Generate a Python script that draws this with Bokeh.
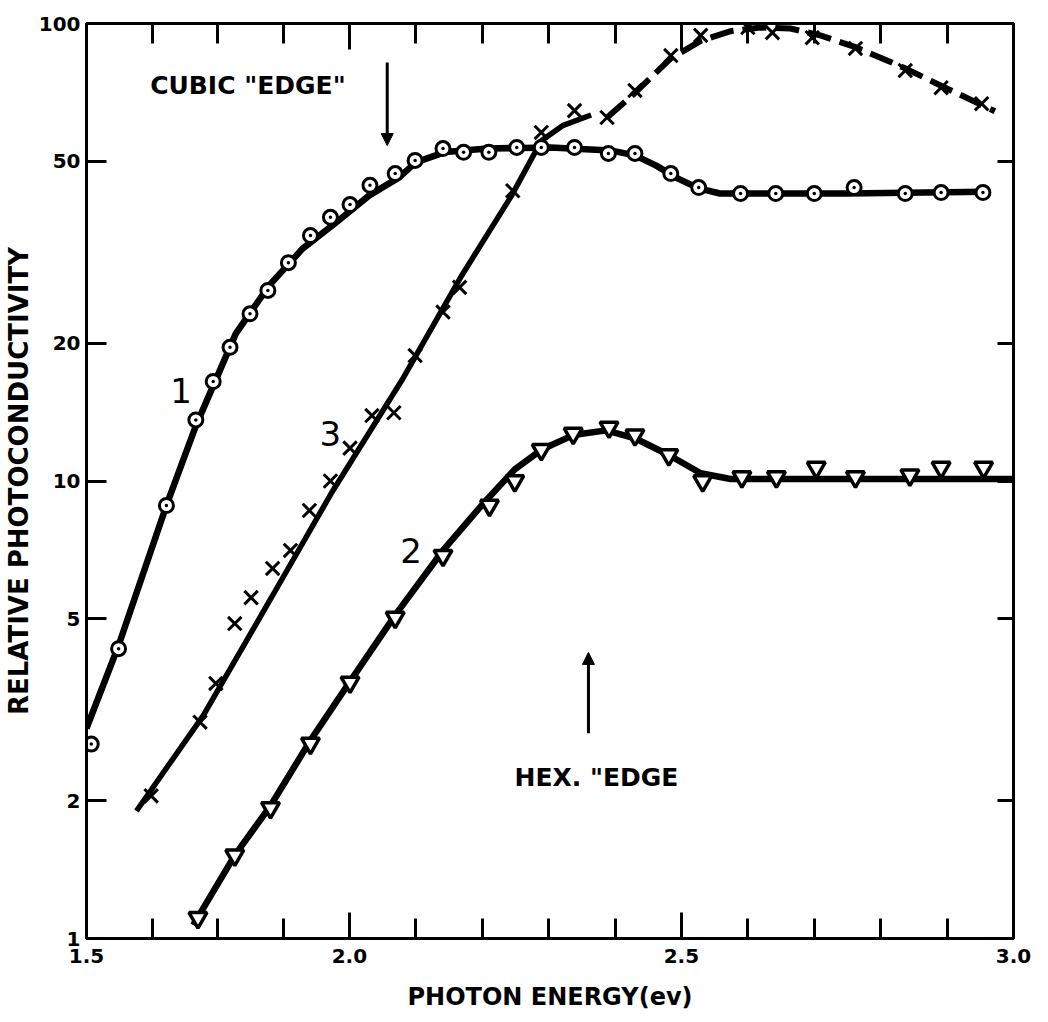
from bokeh.plotting import figure
from bokeh.models import (FixedTicker, LinearAxis, LogAxis, PrintfTickFormatter,
                          CustomJSTickFormatter, CustomJSTransform, Arrow,
                          NormalHead, Range1d, ColumnDataSource)
from bokeh.transform import transform
from bokeh.core.properties import value
from bokeh.embed import file_html
from bokeh.resources import INLINE

# ---------------- data ----------------
# Curve 1 (open circles)
energy_1 = [1.509, 1.561, 1.652, 1.708, 1.741, 1.773, 1.811, 1.845, 1.884, 1.926,
            1.964, 2.001, 2.031, 2.069, 2.099, 2.141, 2.172, 2.210, 2.252, 2.289,
            2.339, 2.390, 2.430, 2.484, 2.526, 2.589, 2.642, 2.700, 2.760, 2.837,
            2.891, 2.954]
photo_1 = [2.66, 4.30, 8.84, 13.6, 16.5, 19.6, 23.2, 26.1, 30.0, 34.4,
           37.7, 40.2, 44.3, 47.0, 50.2, 53.3, 52.3, 52.3, 53.6, 53.6,
           53.6, 52.0, 52.0, 47.0, 43.8, 42.5, 42.5, 42.5, 43.8, 42.5,
           42.7, 42.7]
# drawn curve 1
curve_1_x = [1.500, 1.561, 1.652, 1.708, 1.784, 1.848, 1.911, 1.973, 2.030, 2.075,
             2.100, 2.145, 2.208, 2.303, 2.393, 2.430, 2.462, 2.495, 2.526, 2.558,
             2.621, 2.748, 2.958]
curve_1_y = [2.88, 4.37, 8.84, 13.2, 21.0, 26.8, 32.2, 36.6, 42.1, 46.1,
             49.7, 52.4, 53.3, 53.6, 52.8, 51.5, 48.9, 45.8, 43.6, 42.5,
             42.5, 42.5, 42.9]

# Curve 2 (inverted triangles)
energy_2 = [1.712, 1.782, 1.850, 1.926, 2.001, 2.069, 2.141, 2.211, 2.249, 2.289,
            2.337, 2.391, 2.430, 2.481, 2.532, 2.591, 2.643, 2.703, 2.762, 2.844,
            2.891, 2.955]
photo_2 = [1.11, 1.52, 1.93, 2.67, 3.63, 5.03, 6.87, 8.84, 10.0, 11.7,
           12.7, 13.1, 12.6, 11.4, 10.0, 10.2, 10.2, 10.7, 10.2, 10.3,
           10.7, 10.7]
curve_2_x = [1.703, 1.782, 1.850, 1.926, 2.004, 2.069, 2.141, 2.199, 2.249, 2.289,
             2.337, 2.387, 2.430, 2.481, 2.529, 2.574, 2.679, 2.829, 3.000]
curve_2_y = [1.07, 1.52, 1.95, 2.71, 3.70, 5.09, 7.05, 8.84, 10.6, 11.7,
             12.6, 12.9, 12.4, 11.4, 10.4, 10.1, 10.1, 10.1, 10.1]

# Curve 3 (crosses)
energy_3 = [1.623, 1.716, 1.746, 1.782, 1.813, 1.854, 1.888, 1.924, 1.964, 2.001,
            2.034, 2.067, 2.099, 2.141, 2.166, 2.246, 2.289, 2.339, 2.388, 2.430,
            2.484, 2.529, 2.600, 2.637, 2.697, 2.762, 2.837, 2.891, 2.952]
photo_3 = [2.05, 2.97, 3.61, 4.88, 5.56, 6.44, 7.05, 8.62, 10.0, 11.8,
           13.9, 14.1, 18.8, 23.4, 26.5, 43.1, 57.8, 64.5, 62.3, 71.4,
           85.1, 94.2, 98.0, 95.5, 93.1, 88.2, 78.9, 72.4, 66.8]
curve_3_solid_x = [1.595, 1.722, 1.854, 1.968, 2.079, 2.169, 2.244, 2.289, 2.322, 2.364]
curve_3_solid_y = [1.90, 3.07, 5.62, 9.5, 16.6, 28.1, 42.0, 55.4, 59.9, 63.1]
curve_3_dash_x = [2.388, 2.430, 2.484, 2.529, 2.574, 2.619, 2.664, 2.709, 2.762, 2.837,
                  2.891, 2.972]
curve_3_dash_y = [62.3, 70.5, 83.9, 91.6, 96.2, 98.0, 97.5, 94.2, 88.8, 79.8,
                  73.1, 64.3]

# axes (the original x axis is drawn with a shorter 1.5-2.0 section,
# divided in four, while 2.0-3.0 is divided in tenths)
x_ticks = [1.5, 2.0, 2.5, 3.0]
x_minor_ticks = [1.625, 1.75, 1.875, 2.1, 2.2, 2.3, 2.4, 2.6, 2.7, 2.8, 2.9]
x_break = 2.0
left_section_ratio = 264.0 / 333.5   # length of 0.5 eV below 2.0 vs above
y_ticks = [1, 2, 5, 10, 20, 50, 100]
y_inner_ticks = [2, 5, 10, 20, 50]

# annotations
cubic_edge_x = 2.057
cubic_edge_from, cubic_edge_to = 82.2, 54.1
hex_edge_x = 2.360
hex_edge_from, hex_edge_to = 2.81, 4.22
note_text = ['CUBIC "EDGE"', 'HEX. "EDGE']
note_x = [1.807, 2.372]
note_y = [73.2, 2.25]
curve_names = ["1", "3", "2"]
curve_name_x = [1.680, 1.964, 2.093]
curve_name_y = [15.8, 12.7, 7.05]


def to_axis(x):
    return x if x >= x_break else x_break - (x_break - x) * left_section_ratio


warp = CustomJSTransform(
    args=dict(b=x_break, k=left_section_ratio),
    func="return x < b ? b - (b - x) * k : x;",
    v_func="""
        const out = new Float64Array(xs.length);
        for (let i = 0; i < xs.length; i++) {
            const v = xs[i];
            out[i] = v < b ? b - (b - v) * k : v;
        }
        return out;
    """)
tick_fmt = CustomJSTickFormatter(
    args=dict(b=x_break, k=left_section_ratio),
    code="const v = tick < b ? b - (b - tick) / k : tick; return v.toFixed(1);")
blank = CustomJSTickFormatter(code="return '';")

axis_ticks = [to_axis(t) for t in x_ticks]
axis_minor = [to_axis(t) for t in x_minor_ticks]

# ---------------- figure ----------------
FONT = "DejaVu Sans"
p = figure(width=1040, height=1020,
           x_range=Range1d(to_axis(x_ticks[0]), x_ticks[-1]),
           y_range=Range1d(y_ticks[0], y_ticks[-1]),
           y_axis_type="log", output_backend="svg", toolbar_location=None,
           min_border_left=82, min_border_right=27, min_border_top=23,
           min_border_bottom=82)
p.xgrid.visible = False
p.ygrid.visible = False
p.outline_line_color = "black"
p.outline_line_width = 3
p.background_fill_color = "white"
p.border_fill_color = "white"

# bottom axis
xa = p.xaxis[0]
xa.ticker = FixedTicker(ticks=axis_ticks, minor_ticks=axis_minor)
xa.formatter = tick_fmt
xa.axis_line_width = 3
xa.major_tick_in = 26
xa.major_tick_out = 0
xa.minor_tick_in = 20
xa.minor_tick_out = 0
xa.major_tick_line_width = 3
xa.minor_tick_line_width = 3
xa.major_label_standoff = 10
xa.major_label_text_font = FONT
xa.major_label_text_font_style = "bold"
xa.major_label_text_font_size = "20px"
xa.major_label_text_color = "black"
xa.axis_label = "PHOTON ENERGY(ev)"
xa.axis_label_text_font = FONT
xa.axis_label_text_font_style = "bold"
xa.axis_label_text_font_size = "24px"
xa.axis_label_standoff = 17
xa.axis_label_text_color = "black"

# left axis
ya = p.yaxis[0]
ya.ticker = FixedTicker(ticks=y_ticks)
ya.formatter = PrintfTickFormatter(format="%d")
ya.axis_line_width = 3
ya.major_tick_in = 20
ya.major_tick_out = 0
ya.minor_tick_in = 0
ya.minor_tick_out = 0
ya.major_tick_line_width = 3
ya.major_label_standoff = 6
ya.major_label_text_font = FONT
ya.major_label_text_font_style = "bold"
ya.major_label_text_font_size = "20px"
ya.major_label_text_color = "black"
ya.axis_label = "RELATIVE PHOTOCONDUCTIVITY"
ya.axis_label_text_font = FONT
ya.axis_label_text_font_style = "bold"
ya.axis_label_text_font_size = "26px"
ya.axis_label_standoff = 2
ya.axis_label_text_color = "black"

# top axis (ticks only)
top = LinearAxis(ticker=FixedTicker(ticks=axis_ticks, minor_ticks=axis_minor),
                 formatter=blank, major_label_text_font_size="8px",
                 major_label_standoff=0,
                 axis_line_width=3, major_tick_in=26, major_tick_out=0,
                 minor_tick_in=20, minor_tick_out=0,
                 major_tick_line_width=3, minor_tick_line_width=3)
p.add_layout(top, "above")

# right axis (ticks only)
right = LogAxis(ticker=FixedTicker(ticks=y_inner_ticks),
                formatter=blank, major_label_text_font_size="8px",
                major_label_standoff=0,
                axis_line_width=3, major_tick_in=16, major_tick_out=0,
                minor_tick_in=0, minor_tick_out=0, major_tick_line_width=3)
p.add_layout(right, "right")

X = transform("x", warp)

# curves
for cx, cy, lw, dash in [(curve_1_x, curve_1_y, 6.5, "solid"),
                         (curve_2_x, curve_2_y, 6.5, "solid"),
                         (curve_3_solid_x, curve_3_solid_y, 5.5, "solid"),
                         (curve_3_dash_x, curve_3_dash_y, 6, "24 9")]:
    src = ColumnDataSource(dict(x=cx, y=cy))
    p.line(x=X, y="y", source=src, line_color="black", line_width=lw,
           line_dash=dash)

# markers
p.scatter(x=X, y="y", source=ColumnDataSource(dict(x=energy_1, y=photo_1)),
          marker="circle_dot", size=14, line_color="black", line_width=3,
          fill_color="white")
p.scatter(x=X, y="y", source=ColumnDataSource(dict(x=energy_2, y=photo_2)),
          marker="inverted_triangle", size=18, line_color="black",
          line_width=3.5, fill_color="white")
p.scatter(x=X, y="y", source=ColumnDataSource(dict(x=energy_3, y=photo_3)),
          marker="x", size=19, line_color="black", line_width=3)

# annotations
p.add_layout(Arrow(end=NormalHead(size=12, fill_color="black", line_color="black"),
                   x_start=to_axis(cubic_edge_x), y_start=cubic_edge_from,
                   x_end=to_axis(cubic_edge_x), y_end=cubic_edge_to,
                   line_color="black", line_width=3))
p.add_layout(Arrow(end=NormalHead(size=12, fill_color="black", line_color="black"),
                   x_start=to_axis(hex_edge_x), y_start=hex_edge_from,
                   x_end=to_axis(hex_edge_x), y_end=hex_edge_to,
                   line_color="black", line_width=3))

p.text(x=X, y="y", text="text",
       source=ColumnDataSource(dict(x=note_x, y=note_y, text=note_text)),
       text_font=value(FONT), text_font_style="bold", text_font_size="25px",
       text_align="center", text_baseline="middle", text_color="black")
p.text(x=X, y="y", text="text",
       source=ColumnDataSource(dict(x=curve_name_x, y=curve_name_y,
                                    text=curve_names)),
       text_font=value(FONT), text_font_size="34px", text_align="center",
       text_baseline="middle", text_color="black")

open("out.html", "w").write(file_html(p, INLINE))
